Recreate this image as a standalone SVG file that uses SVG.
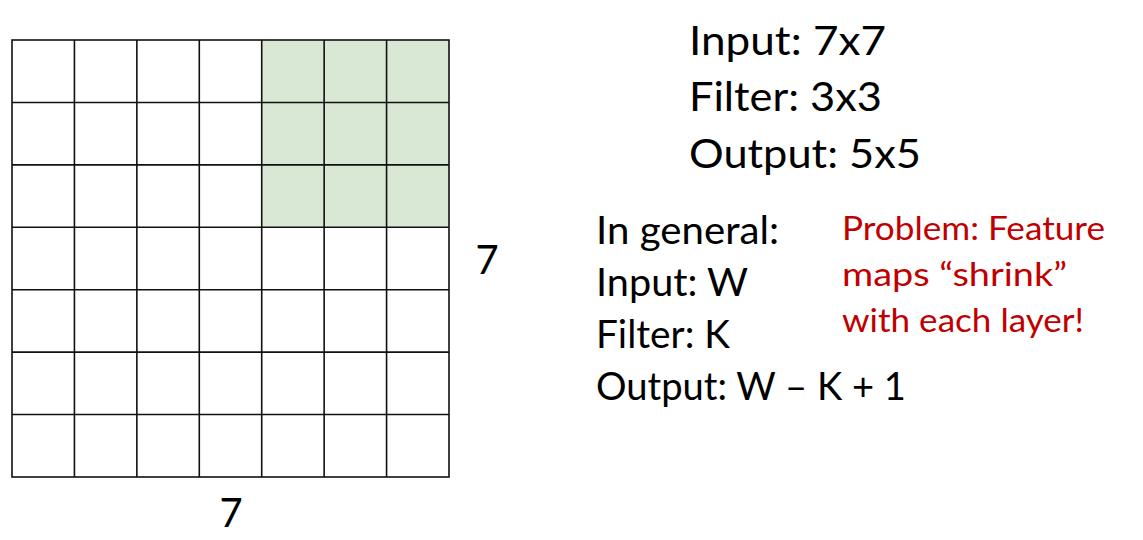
<svg xmlns="http://www.w3.org/2000/svg" width="1143" height="540" viewBox="0 0 1143 540">
  <style>
    .cell { fill: #ffffff; stroke: #111111; stroke-width: 1.6; }
    .hl { fill: #d9e8d4; }
    .t { font-family: Lato, "Open Sans", "Liberation Sans", sans-serif; fill: #000000; }
    .big { font-size: 41.5px; }
    .mid { font-size: 38px; }
    .red { font-size: 32.5px; fill: #c00000; }
    .num { font-size: 40px; }
  </style>
  <rect width="1143" height="540" fill="#ffffff"/>
  <g id="grid">
    <rect x="261.71" y="40" width="187.29" height="187.29" class="hl"/>
    <g fill="none" stroke="#111111" stroke-width="1.6">
      <rect x="12" y="40" width="437" height="437"/>
      <path d="M74.43 40V477M136.86 40V477M199.29 40V477M261.71 40V477M324.14 40V477M386.57 40V477"/>
      <path d="M12 102.43H449M12 164.86H449M12 227.29H449M12 289.71H449M12 352.14H449M12 414.57H449"/>
    </g>
  </g>
  <g id="label-right">
    <text class="t num" x="487" y="274" text-anchor="middle">7</text>
  </g>
  <g id="label-bottom">
    <text class="t num" x="231" y="527" text-anchor="middle">7</text>
  </g>
  <g id="specific">
    <text class="t big" x="689" y="55" textLength="197" lengthAdjust="spacingAndGlyphs">Input: 7x7</text>
    <text class="t big" x="689" y="111" textLength="193" lengthAdjust="spacingAndGlyphs">Filter: 3x3</text>
    <text class="t big" x="689" y="168" textLength="232" lengthAdjust="spacingAndGlyphs">Output: 5x5</text>
  </g>
  <g id="general">
    <text class="t mid" x="596" y="244" textLength="183" lengthAdjust="spacingAndGlyphs">In general:</text>
    <text class="t mid" x="596" y="296" textLength="152" lengthAdjust="spacingAndGlyphs">Input: W</text>
    <text class="t mid" x="596" y="348" textLength="134" lengthAdjust="spacingAndGlyphs">Filter: K</text>
    <text class="t mid" x="596" y="400" textLength="310" lengthAdjust="spacingAndGlyphs">Output: W – K + 1</text>
  </g>
  <g id="problem">
    <text class="t red" x="842" y="240" textLength="263" lengthAdjust="spacingAndGlyphs">Problem: Feature</text>
    <text class="t red" x="842" y="286" textLength="225" lengthAdjust="spacingAndGlyphs">maps “shrink”</text>
    <text class="t red" x="842" y="332" textLength="242" lengthAdjust="spacingAndGlyphs">with each layer!</text>
  </g>
</svg>
